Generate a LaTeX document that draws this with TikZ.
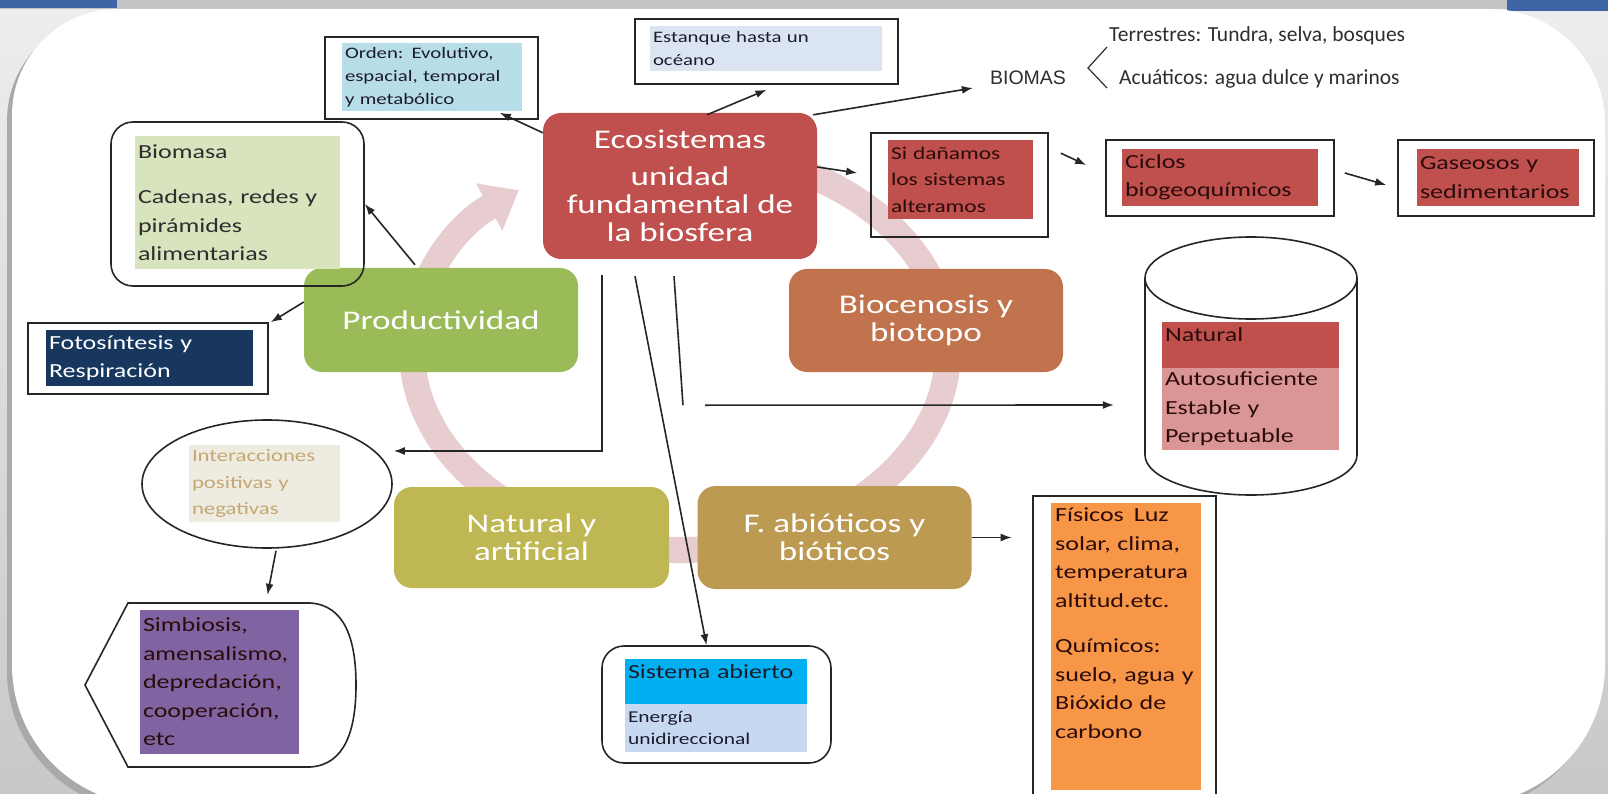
\documentclass[tikz,border=0pt]{standalone}
\usepackage{fontspec}
\setmainfont{Carlito}[FakeStretch=1.3]
\newfontfamily\plainfont{Carlito}
\newfontfamily\biomasfont{Liberation Sans}
\usetikzlibrary{arrows, arrows.meta, shapes.geometric}
\definecolor{bggray}{HTML}{C8C8C8}
\definecolor{bglight}{HTML}{EEEEEE}
\definecolor{topgray}{HTML}{C4C4C4}
\definecolor{topblue}{HTML}{3D65A5}
\definecolor{shadowgray}{HTML}{A9A9A9}
\definecolor{ringpink}{HTML}{E8CDD0}
\definecolor{boxgray}{HTML}{262626}
\definecolor{ecored}{HTML}{C0504D}
\definecolor{prodgreen}{HTML}{9BBB59}
\definecolor{biocbrown}{HTML}{C0734D}
\definecolor{natolive}{HTML}{BFB753}
\definecolor{abiotan}{HTML}{BD9A52}
\definecolor{ordenblue}{HTML}{B7DDE8}
\definecolor{estanqueblue}{HTML}{DBE5F1}
\definecolor{biomasagreen}{HTML}{D7E4BD}
\definecolor{fotonavy}{HTML}{17375E}
\definecolor{interbeige}{HTML}{EEECE1}
\definecolor{intertxt}{HTML}{C6A774}
\definecolor{simbpurple}{HTML}{8064A2}
\definecolor{sistcyan}{HTML}{00B0F0}
\definecolor{sistlight}{HTML}{C6D9F1}
\definecolor{fisorange}{HTML}{F79646}
\definecolor{natpink}{HTML}{D99694}
\definecolor{txtdark}{HTML}{1C1C2C}
\definecolor{redtxt}{HTML}{2B0B0B}
\definecolor{txtgray}{HTML}{2E2E2E}
\newcommand{\boxtxt}{\fontsize{20}{28.5}\selectfont}
\newcommand{\titletxt}{\fontsize{27}{28}\selectfont}
\hyphenpenalty=10000
\exhyphenpenalty=10000

\begin{document}
\begin{tikzpicture}[x=1pt,y=-1pt]

\tikzset{bigbox/.style = {rounded corners=18pt, minimum width=274pt, text=white, align=center, font=\titletxt}}
\tikzset{outerbox/.style = {draw=boxgray, line width=1.6pt}}
\tikzset{fillbox/.style = {inner xsep=3pt, inner ysep=0pt, align=left, font=\boxtxt}}
\tikzset{edge/.style = {-{Latex[length=11pt,width=8pt]}, line width=1.6pt, draw=black!85}}
\tikzset{ringline/.style = {line width=26pt, draw=ringpink}}

%background
\clip (0,0) rectangle (1608,794);
\shade[top color=bglight, bottom color=bggray] (0,0) rectangle (1608,794);
\fill[topgray] (0,0) rectangle (1608,9);
\fill[topblue] (0,0) rectangle (117,8);
\fill[topblue] (1507,0) rectangle (1608,11);
\fill[shadowgray, xshift=-5pt, yshift=-6pt] (12,115) arc[start angle=180, end angle=270, radius=106] -- (1490,9)
  arc[start angle=270, end angle=360, radius=115] -- (1605,665) arc[start angle=0, end angle=90, radius=140]
  -- (152,805) arc[start angle=90, end angle=180, radius=140] -- cycle;
\fill[white] (12,115) arc[start angle=180, end angle=270, radius=106] -- (1490,9)
  arc[start angle=270, end angle=360, radius=115] -- (1605,665) arc[start angle=0, end angle=90, radius=140]
  -- (152,805) arc[start angle=90, end angle=180, radius=140] -- cycle;

%cycle ring
\draw[ringline, -{Triangle[width=52pt,length=34pt]}] (680,350) ++(-62:268 and 200)
  arc[start angle=-62, end angle=233, x radius=268, y radius=200];

%main boxes
\node[bigbox, fill=ecored, minimum height=146pt] (eco) at (680,186) {Ecosistemas\\[9pt]unidad\\fundamental de\\la biosfera};
\node[bigbox, fill=prodgreen, minimum height=104pt] (prod) at (441,320) {Productividad};
\node[bigbox, fill=biocbrown, minimum height=103pt] (bioc) at (926,320.5) {Biocenosis y\\biotopo};
\node[bigbox, fill=natolive, minimum height=101pt, minimum width=275pt] (natart) at (531.5,537.5) {Natural y\\artificial};
\node[bigbox, fill=abiotan, minimum height=103pt] (fabio) at (834.5,537.5) {F. abióticos y\\bióticos};

%top boxes
\node[outerbox, minimum width=213pt, minimum height=82pt] (orden) at (431.5,78) {};
\node[fillbox, fill=ordenblue, text=txtdark, text width=174pt, minimum height=68pt, font=\fontsize{16}{23}\selectfont] (ordenT) at (432,77) {Orden: Evolutivo,\\espacial, temporal\\y metabólico};
\node[outerbox, minimum width=263pt, minimum height=65pt] (estanque) at (766.5,51.5) {};
\node[fillbox, fill=estanqueblue, text=txtdark, text width=226pt, minimum height=45pt, font=\fontsize{16}{23}\selectfont] (estanqueT) at (766,48.5) {Estanque hasta un\\océano};
\node[inner sep=0pt, text=txtgray, font=\biomasfont\fontsize{19.5}{20}\selectfont] (biomas) at (1028,78) {BIOMAS};
\draw[txtgray, line width=1.2pt] (1107,47) -- (1088,68) -- (1107,88);
\node[anchor=west, inner sep=0pt, text=txtgray, font=\plainfont\fontsize{21.5}{22}\selectfont] (terr) at (1109,36) {Terrestres: Tundra, selva, bosques};
\node[anchor=west, inner sep=0pt, text=txtgray, font=\plainfont\fontsize{21.5}{22}\selectfont] (acua) at (1119,79) {Acuáticos: agua dulce y marinos};

%red chain
\node[outerbox, minimum width=177pt, minimum height=104pt] (sidan) at (959.5,185) {};
\node[fillbox, fill=ecored, text=redtxt, text width=139pt, minimum height=79pt, font=\fontsize{18}{26.5}\selectfont] (sidanT) at (960.5,179.5) {Si dañamos\\los sistemas\\alteramos};
\node[outerbox, minimum width=228pt, minimum height=76pt] (ciclos) at (1220,178) {};
\node[fillbox, fill=ecored, text=redtxt, text width=190pt, minimum height=57pt] (ciclosT) at (1220,177.5) {Ciclos\\biogeoquímicos};
\node[outerbox, minimum width=196pt, minimum height=76pt] (gaseosos) at (1496,178) {};
\node[fillbox, fill=ecored, text=redtxt, text width=156pt, minimum height=57pt] (gaseososT) at (1498,177.5) {Gaseosos y\\sedimentarios};

%left boxes
\node[outerbox, rounded corners=22pt, minimum width=253pt, minimum height=164pt] (biomasa) at (237.5,204) {};
\node[fillbox, fill=biomasagreen, text=txtgray, text width=199pt, minimum height=133pt] (biomasaT) at (237.5,202.5) {Biomasa\\[17pt]Cadenas, redes y\\pirámides\\alimentarias};
\node[outerbox, minimum width=240pt, minimum height=71pt] (foto) at (148,358.5) {};
\node[fillbox, fill=fotonavy, text=white, text width=201pt, minimum height=56pt] (fotoT) at (149.5,358) {Fotosíntesis y\\Respiración};
\node[outerbox, ellipse, minimum width=250pt, minimum height=128pt] (inter) at (267,484) {};
\node[fillbox, fill=interbeige, text=intertxt, text width=145pt, minimum height=77pt, font=\fontsize{17.5}{26.5}\selectfont] (interT) at (264.5,483.5) {Interacciones\\positivas y\\negativas};
\node[minimum width=269pt, minimum height=164pt] (simb) at (219.5,685) {};
\draw[outerbox] (85,685) -- (128,603) -- (310,603) .. controls (345,605) and (356,640) .. (356,685)
  .. controls (356,730) and (345,765) .. (310,767) -- (128,767) -- cycle;
\node[fillbox, fill=simbpurple, text=redtxt, text width=153pt, minimum height=144pt] (simbT) at (219.5,682) {Simbiosis,\\amensalismo,\\depredación,\\cooperación,\\etc};

%lower boxes
\node[outerbox, rounded corners=22pt, minimum width=229pt, minimum height=117pt] (sist) at (716.5,704.5) {};
\node[fillbox, fill=sistcyan, text=txtdark, text width=176pt, minimum height=45pt, text height=14pt, text depth=21pt] (sistT) at (716,681.5) {Sistema abierto};
\node[fillbox, fill=sistlight, text=txtdark, text width=176pt, minimum height=48pt, font=\fontsize{16.5}{22}\selectfont] (sistE) at (716,728) {Energía\\unidireccional};
\node[outerbox, anchor=north, minimum width=183pt, minimum height=340pt] (fisicos) at (1124.5,495) {};
\node[fill=fisorange, anchor=north, minimum width=150pt, minimum height=287pt] (fisfill) at (1126,503) {};
\node[fillbox, anchor=north west, text=redtxt, text width=144pt] (fisT) at (1052,508) {Físicos\enspace Luz\\solar, clima,\\temperatura\\altitud.etc.\\[17pt]Químicos:\\suelo, agua y\\Bióxido de\\carbono};

%cylinder
\node[minimum width=212pt, minimum height=258pt] (cyl) at (1251,366) {};
\draw[outerbox, fill=white] (1145,278) -- (1145,455) arc[start angle=180, end angle=0, x radius=106, y radius=40] -- (1357,278);
\draw[outerbox] (1251,278) ellipse [x radius=106, y radius=41];
\node[fillbox, fill=ecored, text=redtxt, text width=171pt, minimum height=46pt, text height=16pt, text depth=24pt] (natT) at (1250.5,345) {Natural};
\node[fillbox, fill=natpink, text=redtxt, text width=171pt, minimum height=82pt] (natP) at (1250.5,409) {Autosuficiente\\Estable y\\Perpetuable};

%edges
\draw[edge] ([yshift=-20pt]eco.north west) -- ([xshift=-39pt,yshift=7pt]orden.south east);
\draw[edge] ([xshift=27pt,yshift=-2pt]eco.north) -- ([yshift=-5pt]estanque.south);
\draw[edge] ([xshift=-4pt,yshift=-2pt]eco.north east) -- ([xshift=-17pt,yshift=-10pt]biomas.west);
\draw[edge] ([yshift=19pt]eco.east) -- ([xshift=-13pt,yshift=12pt]sidan.west);
\draw[edge] ([xshift=12pt,yshift=-21pt]sidan.north east) -- ([xshift=-19pt,yshift=13pt]ciclos.west);
\draw[edge] ([xshift=10pt,yshift=5pt]ciclos.east) -- ([xshift=-11pt,yshift=-7pt]gaseosos.west);
\draw[edge] ([xshift=-26pt,yshift=3pt]prod.north) -- (biomasa.east);
\draw[edge] ([yshift=18pt]prod.west) -- ([xshift=2pt]foto.north east);
\draw[edge] ([xshift=-78pt,yshift=-16pt]eco.south) |- ([xshift=1pt,yshift=33pt]inter.east);
\draw[edge] ([xshift=-45pt,yshift=-17pt]eco.south) -- ([xshift=-10pt]sist.north);
\draw[line width=1.6pt, black!85] ([xshift=-6pt,yshift=-17pt]eco.south) -- ([xshift=3pt,yshift=-146pt]eco.south);
\draw[edge] ([xshift=25pt,yshift=-146pt]eco.south) -- ([xshift=-31pt,yshift=-39pt]cyl.west);
\draw[edge] ([xshift=9pt,yshift=-2pt]inter.south) -- ([xshift=48pt,yshift=8pt]simb.north);
\draw[edge] (fabio.east) -- ++(40,0);

\end{tikzpicture}
\end{document}
